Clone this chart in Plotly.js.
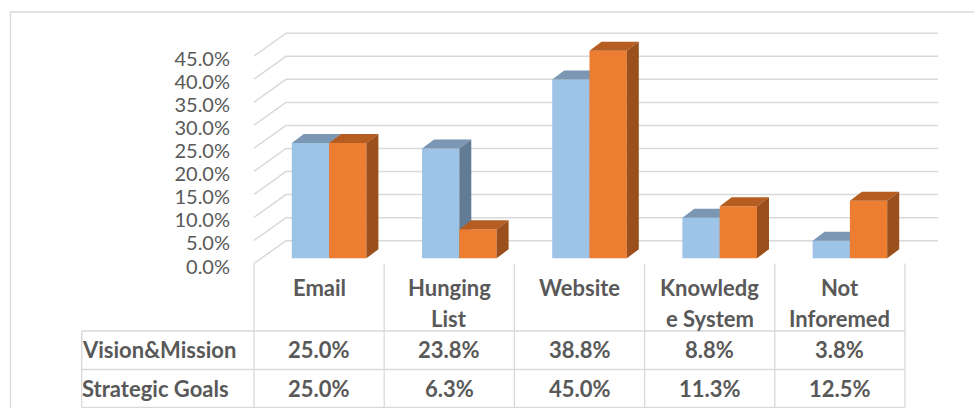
<!DOCTYPE html>
<html><head><meta charset="utf-8">
<script src="https://cdn.plot.ly/plotly-3.0.1.min.js"></script>
<style>html,body{margin:0;padding:0;background:#fff}#chart{width:974px;height:408px}</style>
</head><body><div id="chart"></div>
<script>
// ---- data ----
const categories = ["Email", "Hunging List", "Website", "Knowledge System", "Not Inforemed"];
const categoryLabels = [["Email"], ["Hunging", "List"], ["Website"], ["Knowledg", "e System"], ["Not", "Inforemed"]];
const seriesNames = ["Vision&Mission", "Strategic Goals"];
const visionMission = [25.0, 23.8, 38.8, 8.8, 3.8];
const strategicGoals = [25.0, 6.3, 45.0, 11.3, 12.5];
const yTickValues = [0, 5, 10, 15, 20, 25, 30, 35, 40, 45];

// ---- layout constants (pixels) ----
const W = 974, H = 408;
const FRONT_LEFT = 254, COL_W = 130.2, FRONT_ZERO = 263.5, PX_PER_PCT = 4.61;
const PLOT_L = 246, PLOT_R = 942, PLOT_T = 26, PLOT_B = 268;
const WALL_RIGHT_PX = 938;
const GRID = '#d9d9d9', TXT = '#595959';
const FONT = 'Lato, "Open Sans", sans-serif';

// 3D offsets in axis units
const WALL_DX = 32 / COL_W, WALL_DY = 22.8 / PX_PER_PCT;
const BAR_BASE = 5.2 / PX_PER_PCT;
const BAR_SHIFT = 10 / COL_W, BAR_W = 37.3 / COL_W;
const DEPTH_DX = 12 / COL_W, DEPTH_DY = 9 / PX_PER_PCT;

const xRange = [-0.5 + (PLOT_L - FRONT_LEFT) / COL_W, -0.5 + (PLOT_R - FRONT_LEFT) / COL_W];
const yRange = [(FRONT_ZERO - PLOT_B) / PX_PER_PCT, (FRONT_ZERO - PLOT_T) / PX_PER_PCT];
const wallEnd = -0.5 + (WALL_RIGHT_PX - FRONT_LEFT) / COL_W;
const px2paperX = p => p / W;
const px2paperY = p => 1 - p / H;
const cat2paperX = c => (FRONT_LEFT + (c + 0.5) * COL_W) / W;

const traces = [];

// back wall gridlines + left wall diagonals
const gx = [], gy = [];
yTickValues.forEach(v => {
  gx.push(-0.5, -0.5 + WALL_DX, wallEnd, null);
  gy.push(v, v + WALL_DY, v + WALL_DY, null);
});
traces.push({type: 'scatter', mode: 'lines', x: gx, y: gy, line: {color: GRID, width: 1.5},
  hoverinfo: 'skip', showlegend: false, cliponaxis: false});

// bars
const styles = [
  {front: '#9dc3e6', top: '#7b97b4', side: '#637c95', offset: -BAR_W},
  {front: '#ed7d31', top: '#b65e22', side: '#9a4f1c', offset: 0}
];
[visionMission, strategicGoals].forEach((vals, s) => {
  const st = styles[s];
  const faces = {front: [[], []], top: [[], []], side: [[], []]};
  vals.forEach((v, i) => {
    const x0 = i + BAR_SHIFT + st.offset, x1 = x0 + BAR_W;
    const b = BAR_BASE, t = BAR_BASE + v;
    faces.front[0].push(x0, x1, x1, x0, x0, null);
    faces.front[1].push(b, b, t, t, b, null);
    faces.top[0].push(x0, x1, x1 + DEPTH_DX, x0 + DEPTH_DX, x0, null);
    faces.top[1].push(t, t, t + DEPTH_DY, t + DEPTH_DY, t, null);
    faces.side[0].push(x1, x1 + DEPTH_DX, x1 + DEPTH_DX, x1, x1, null);
    faces.side[1].push(b, b + DEPTH_DY, t + DEPTH_DY, t, b, null);
  });
  ['front', 'top', 'side'].forEach(f => {
    traces.push({type: 'scatter', mode: 'lines', x: faces[f][0], y: faces[f][1],
      fill: 'toself', fillcolor: st[f], line: {width: 0, color: st[f]},
      name: seriesNames[s], hoverinfo: 'skip', showlegend: false});
  });
});

// ---- table ----
const ROW_LINES = [331, 369.5, 407.5];
const TABLE_LEFT = 81.7, TABLE_TOP_COLS = FRONT_ZERO;
const shapes = [];
const ln = {color: GRID, width: 1.3};
// outer chart border
shapes.push({type: 'rect', xref: 'paper', yref: 'paper', x0: px2paperX(10.5), x1: 1.05,
  y0: -0.05, y1: px2paperY(12), line: ln});
// vertical category dividers
for (let i = 0; i <= categories.length; i++) {
  const xp = cat2paperX(i - 0.5);
  shapes.push({type: 'line', xref: 'paper', yref: 'paper', x0: xp, x1: xp,
    y0: px2paperY(TABLE_TOP_COLS), y1: px2paperY(ROW_LINES[2]), line: ln});
}
// left border of row-label column
shapes.push({type: 'line', xref: 'paper', yref: 'paper', x0: px2paperX(TABLE_LEFT), x1: px2paperX(TABLE_LEFT),
  y0: px2paperY(ROW_LINES[0]), y1: px2paperY(ROW_LINES[2]), line: ln});
ROW_LINES.forEach(r => shapes.push({type: 'line', xref: 'paper', yref: 'paper',
  x0: px2paperX(TABLE_LEFT), x1: cat2paperX(categories.length - 0.5),
  y0: px2paperY(r), y1: px2paperY(r), line: ln}));

const annotations = [];
const tfont = {family: FONT, size: 22, color: TXT, weight: 'bold'};
categoryLabels.forEach((lines, i) => {
  lines.forEach((t, k) => annotations.push({xref: 'x', yref: 'paper', x: i, y: px2paperY(287 + 31 * k),
    text: '<b>' + t + '</b>', showarrow: false, font: tfont, xanchor: 'center', yanchor: 'middle'}));
});
const rowY = [349.5, 388.5];
[visionMission, strategicGoals].forEach((vals, s) => {
  annotations.push({xref: 'paper', yref: 'paper', x: px2paperX(80), y: px2paperY(rowY[s]),
    text: '<b>' + seriesNames[s] + '</b>', showarrow: false, font: tfont, xanchor: 'left', yanchor: 'middle'});
  vals.forEach((v, i) => annotations.push({xref: 'x', yref: 'paper', x: i, y: px2paperY(rowY[s]),
    text: '<b>' + v.toFixed(1) + '%</b>', showarrow: false, font: tfont, xanchor: 'center', yanchor: 'middle'}));
});

const layout = {
  width: W, height: H, margin: {l: 0, r: 0, t: 0, b: 0},
  paper_bgcolor: '#fff', plot_bgcolor: 'rgba(0,0,0,0)', showlegend: false,
  xaxis: {domain: [PLOT_L / W, PLOT_R / W], range: xRange, showgrid: false, zeroline: false,
    showticklabels: false, ticks: '', showline: false, fixedrange: true},
  yaxis: {domain: [1 - PLOT_B / H, 1 - PLOT_T / H], range: yRange, showgrid: false, zeroline: false,
    showline: false, tickvals: yTickValues, ticktext: yTickValues.map(v => v.toFixed(1) + '%'),
    ticks: 'outside', ticklen: 11, tickcolor: 'rgba(0,0,0,0)', ticklabelshift: 3,
    tickfont: {family: FONT, size: 20, color: TXT}, fixedrange: true},
  shapes: shapes, annotations: annotations
};
Plotly.newPlot('chart', traces, layout, {displayModeBar: false, staticPlot: true});
</script></body></html>
